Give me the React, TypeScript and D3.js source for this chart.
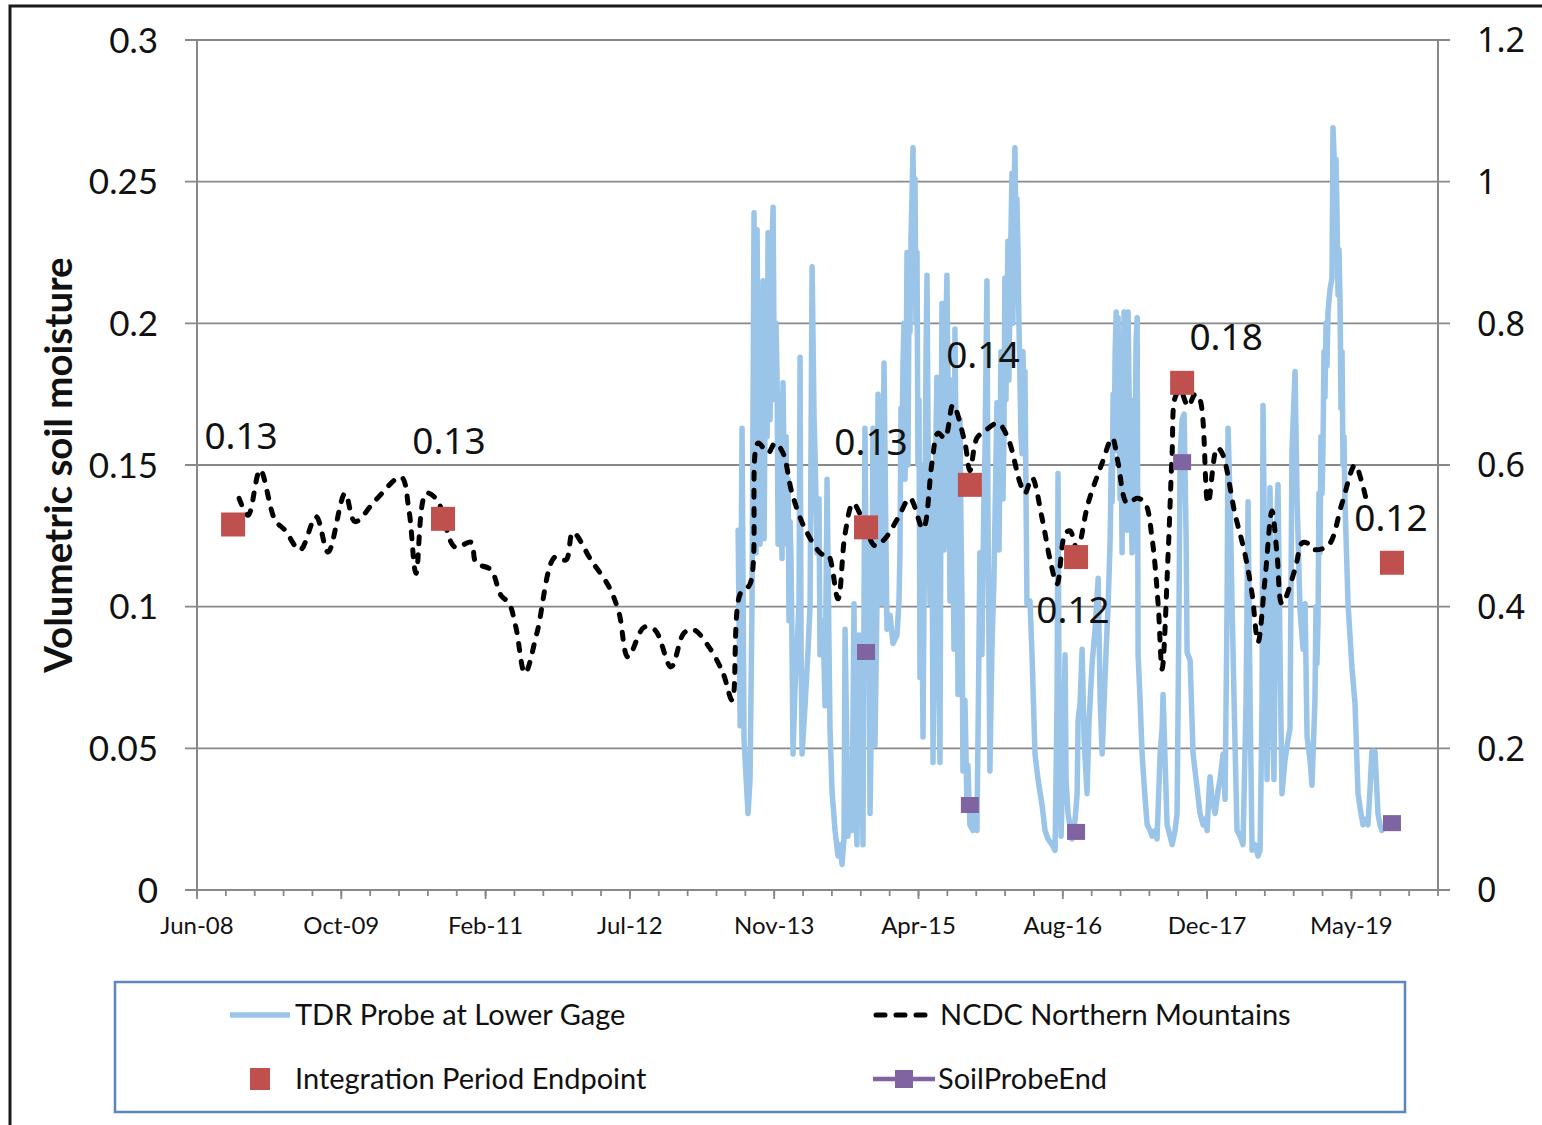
import React from 'react';
import * as d3 from 'd3';

// ---------- axis configuration (data-level) ----------
const axisStart = Date.UTC(2008, 5, 1);
const axisSpanDays = 4300;
const majorStepDays = 500;
const minorStepDays = 100;
const leftTicks = [0, 0.05, 0.1, 0.15, 0.2, 0.25, 0.3];
const rightTicks = [0, 0.2, 0.4, 0.6, 0.8, 1, 1.2];

// ---------- series: TDR Probe at Lower Gage (decimal year, volumetric soil moisture, left axis) ----------
const tdrProbe: [number, number][] = [
  [2013.548, 0.127], [2013.567, 0.058], [2013.585, 0.163], [2013.604, 0.053], [2013.642, 0.027],
  [2013.661, 0.039], [2013.680, 0.102], [2013.699, 0.239], [2013.709, 0.150], [2013.718, 0.119],
  [2013.728, 0.233], [2013.737, 0.180], [2013.747, 0.208], [2013.756, 0.122], [2013.766, 0.190],
  [2013.775, 0.162], [2013.785, 0.215], [2013.794, 0.124], [2013.804, 0.170], [2013.813, 0.208],
  [2013.823, 0.160], [2013.832, 0.232], [2013.842, 0.185], [2013.851, 0.166], [2013.861, 0.220],
  [2013.870, 0.229], [2013.880, 0.241], [2013.889, 0.190], [2013.899, 0.173], [2013.908, 0.200],
  [2013.918, 0.179], [2013.927, 0.122], [2013.937, 0.175], [2013.946, 0.166], [2013.956, 0.130],
  [2013.965, 0.117], [2013.974, 0.179], [2013.984, 0.150], [2013.993, 0.138], [2014.003, 0.160],
  [2014.012, 0.122], [2014.022, 0.145], [2014.031, 0.095], [2014.041, 0.130], [2014.050, 0.117],
  [2014.060, 0.084], [2014.069, 0.048], [2014.088, 0.071], [2014.107, 0.085], [2014.126, 0.102],
  [2014.136, 0.188], [2014.145, 0.088], [2014.155, 0.048], [2014.183, 0.065], [2014.212, 0.085],
  [2014.231, 0.101], [2014.250, 0.220], [2014.269, 0.166], [2014.278, 0.154], [2014.297, 0.119],
  [2014.316, 0.138], [2014.325, 0.083], [2014.354, 0.095], [2014.373, 0.065], [2014.392, 0.145],
  [2014.411, 0.085], [2014.420, 0.057], [2014.439, 0.035], [2014.468, 0.021], [2014.496, 0.012],
  [2014.515, 0.016], [2014.534, 0.009], [2014.553, 0.018], [2014.563, 0.092], [2014.582, 0.046],
  [2014.591, 0.019], [2014.610, 0.032], [2014.629, 0.021], [2014.648, 0.101], [2014.657, 0.046],
  [2014.676, 0.016], [2014.695, 0.090], [2014.705, 0.025], [2014.724, 0.053], [2014.733, 0.016],
  [2014.743, 0.100], [2014.752, 0.163], [2014.762, 0.117], [2014.781, 0.126], [2014.790, 0.090],
  [2014.800, 0.027], [2014.809, 0.050], [2014.819, 0.102], [2014.828, 0.163], [2014.838, 0.117],
  [2014.847, 0.051], [2014.866, 0.102], [2014.876, 0.175], [2014.895, 0.145], [2014.914, 0.101],
  [2014.933, 0.186], [2014.952, 0.120], [2014.961, 0.092], [2014.990, 0.097], [2015.018, 0.087],
  [2015.056, 0.090], [2015.075, 0.102], [2015.084, 0.119], [2015.094, 0.170], [2015.103, 0.155],
  [2015.113, 0.186], [2015.122, 0.200], [2015.132, 0.145], [2015.141, 0.170], [2015.151, 0.225],
  [2015.160, 0.150], [2015.170, 0.208], [2015.179, 0.197], [2015.189, 0.230], [2015.198, 0.244],
  [2015.208, 0.262], [2015.217, 0.230], [2015.227, 0.251], [2015.236, 0.200], [2015.246, 0.225],
  [2015.255, 0.150], [2015.265, 0.173], [2015.274, 0.075], [2015.284, 0.150], [2015.293, 0.102],
  [2015.303, 0.054], [2015.312, 0.100], [2015.322, 0.138], [2015.332, 0.190], [2015.341, 0.217],
  [2015.351, 0.160], [2015.360, 0.138], [2015.369, 0.101], [2015.379, 0.150], [2015.388, 0.138],
  [2015.398, 0.045], [2015.407, 0.090], [2015.416, 0.120], [2015.426, 0.160], [2015.435, 0.181],
  [2015.445, 0.102], [2015.454, 0.070], [2015.464, 0.045], [2015.473, 0.138], [2015.483, 0.207],
  [2015.492, 0.160], [2015.502, 0.120], [2015.511, 0.175], [2015.521, 0.200], [2015.530, 0.217],
  [2015.540, 0.180], [2015.549, 0.155], [2015.559, 0.102], [2015.568, 0.140], [2015.578, 0.180],
  [2015.587, 0.130], [2015.597, 0.085], [2015.606, 0.198], [2015.616, 0.160], [2015.625, 0.138],
  [2015.635, 0.069], [2015.644, 0.120], [2015.654, 0.166], [2015.663, 0.130], [2015.673, 0.102],
  [2015.682, 0.042], [2015.701, 0.067], [2015.720, 0.030], [2015.729, 0.044], [2015.748, 0.023],
  [2015.777, 0.021], [2015.796, 0.027], [2015.815, 0.021], [2015.834, 0.085], [2015.843, 0.119],
  [2015.862, 0.083], [2015.881, 0.138], [2015.891, 0.154], [2015.910, 0.215], [2015.919, 0.138],
  [2015.938, 0.042], [2015.957, 0.085], [2015.976, 0.109], [2016.005, 0.172], [2016.024, 0.120],
  [2016.033, 0.150], [2016.043, 0.190], [2016.052, 0.186], [2016.062, 0.138], [2016.071, 0.160],
  [2016.080, 0.216], [2016.090, 0.173], [2016.099, 0.200], [2016.109, 0.229], [2016.118, 0.180],
  [2016.128, 0.208], [2016.137, 0.230], [2016.147, 0.253], [2016.156, 0.200], [2016.166, 0.244],
  [2016.175, 0.262], [2016.185, 0.230], [2016.194, 0.244], [2016.204, 0.225], [2016.213, 0.200],
  [2016.223, 0.180], [2016.232, 0.160], [2016.242, 0.154], [2016.251, 0.190], [2016.261, 0.173],
  [2016.270, 0.183], [2016.289, 0.101], [2016.318, 0.102], [2016.337, 0.083], [2016.365, 0.048],
  [2016.394, 0.039], [2016.432, 0.030], [2016.460, 0.021], [2016.488, 0.018], [2016.526, 0.016],
  [2016.555, 0.014], [2016.574, 0.067], [2016.583, 0.147], [2016.593, 0.067], [2016.612, 0.019],
  [2016.631, 0.046], [2016.650, 0.083], [2016.659, 0.039], [2016.678, 0.027], [2016.716, 0.018],
  [2016.745, 0.025], [2016.764, 0.034], [2016.773, 0.060], [2016.792, 0.066], [2016.811, 0.085],
  [2016.830, 0.053], [2016.858, 0.034], [2016.877, 0.060], [2016.906, 0.080], [2016.934, 0.092],
  [2016.963, 0.110], [2016.982, 0.067], [2017.001, 0.048], [2017.020, 0.067], [2017.039, 0.085],
  [2017.058, 0.101], [2017.077, 0.124], [2017.087, 0.150], [2017.096, 0.137], [2017.105, 0.175],
  [2017.115, 0.155], [2017.124, 0.190], [2017.134, 0.204], [2017.143, 0.155], [2017.152, 0.202],
  [2017.162, 0.170], [2017.171, 0.138], [2017.181, 0.160], [2017.190, 0.119], [2017.200, 0.173],
  [2017.209, 0.204], [2017.219, 0.180], [2017.228, 0.145], [2017.238, 0.127], [2017.247, 0.204],
  [2017.257, 0.175], [2017.266, 0.155], [2017.276, 0.135], [2017.285, 0.119], [2017.295, 0.150],
  [2017.304, 0.173], [2017.314, 0.160], [2017.323, 0.194], [2017.333, 0.202], [2017.342, 0.083],
  [2017.361, 0.067], [2017.380, 0.048], [2017.409, 0.032], [2017.428, 0.023], [2017.456, 0.021],
  [2017.475, 0.019], [2017.503, 0.021], [2017.522, 0.018], [2017.551, 0.048], [2017.570, 0.057],
  [2017.579, 0.069], [2017.598, 0.046], [2017.617, 0.023], [2017.646, 0.019], [2017.665, 0.016],
  [2017.693, 0.021], [2017.712, 0.027], [2017.731, 0.102], [2017.741, 0.153], [2017.760, 0.166],
  [2017.779, 0.168], [2017.798, 0.124], [2017.807, 0.084], [2017.836, 0.081], [2017.864, 0.048],
  [2017.902, 0.036], [2017.930, 0.027], [2017.959, 0.023], [2017.978, 0.025], [2017.997, 0.021],
  [2018.016, 0.035], [2018.025, 0.040], [2018.044, 0.032], [2018.073, 0.027], [2018.101, 0.035],
  [2018.120, 0.039], [2018.149, 0.048], [2018.168, 0.032], [2018.187, 0.102], [2018.196, 0.163],
  [2018.215, 0.138], [2018.234, 0.101], [2018.253, 0.067], [2018.281, 0.021], [2018.310, 0.019],
  [2018.338, 0.016], [2018.367, 0.067], [2018.386, 0.137], [2018.405, 0.067], [2018.424, 0.014],
  [2018.452, 0.016], [2018.481, 0.012], [2018.500, 0.014], [2018.519, 0.067], [2018.528, 0.171],
  [2018.547, 0.102], [2018.566, 0.039], [2018.585, 0.102], [2018.594, 0.142], [2018.613, 0.067],
  [2018.632, 0.039], [2018.651, 0.120], [2018.670, 0.143], [2018.689, 0.085], [2018.708, 0.034],
  [2018.737, 0.046], [2018.765, 0.053], [2018.784, 0.057], [2018.803, 0.155], [2018.832, 0.183],
  [2018.851, 0.138], [2018.879, 0.099], [2018.908, 0.085], [2018.927, 0.101], [2018.946, 0.054],
  [2018.974, 0.046], [2018.993, 0.037], [2019.021, 0.067], [2019.031, 0.100], [2019.040, 0.080],
  [2019.050, 0.095], [2019.059, 0.140], [2019.069, 0.119], [2019.078, 0.160], [2019.088, 0.140],
  [2019.097, 0.155], [2019.107, 0.190], [2019.116, 0.174], [2019.126, 0.200], [2019.135, 0.185],
  [2019.145, 0.204], [2019.164, 0.212], [2019.183, 0.216], [2019.192, 0.269], [2019.211, 0.251],
  [2019.221, 0.258], [2019.230, 0.239], [2019.240, 0.210], [2019.249, 0.226], [2019.259, 0.208],
  [2019.268, 0.170], [2019.278, 0.190], [2019.287, 0.150], [2019.297, 0.160], [2019.306, 0.137],
  [2019.335, 0.101], [2019.373, 0.078], [2019.401, 0.066], [2019.430, 0.034], [2019.458, 0.027],
  [2019.477, 0.023], [2019.505, 0.025], [2019.524, 0.023], [2019.543, 0.035], [2019.562, 0.049],
  [2019.590, 0.049], [2019.609, 0.035], [2019.619, 0.027], [2019.638, 0.023], [2019.657, 0.021],
];

// ---------- series: NCDC Northern Mountains (decimal year, right axis) ----------
const ncdcNorthernMountains: [number, number][] = [
  [2008.814, 0.553], [2008.899, 0.529], [2009.013, 0.593], [2009.155, 0.522], [2009.250, 0.508],
  [2009.392, 0.480], [2009.544, 0.527], [2009.658, 0.477], [2009.819, 0.560], [2009.914, 0.520],
  [2010.113, 0.551], [2010.351, 0.583], [2010.426, 0.536], [2010.493, 0.447], [2010.588, 0.560],
  [2010.692, 0.551], [2010.863, 0.484], [2011.015, 0.491], [2011.062, 0.462], [2011.204, 0.452],
  [2011.299, 0.416], [2011.375, 0.405], [2011.441, 0.371], [2011.527, 0.306], [2011.641, 0.363],
  [2011.811, 0.470], [2011.916, 0.466], [2011.982, 0.505], [2012.153, 0.466], [2012.324, 0.428],
  [2012.419, 0.391], [2012.504, 0.329], [2012.656, 0.371], [2012.760, 0.367], [2012.912, 0.315],
  [2013.035, 0.363], [2013.130, 0.367], [2013.272, 0.343], [2013.405, 0.306], [2013.491, 0.268],
  [2013.567, 0.418], [2013.661, 0.432], [2013.737, 0.631], [2013.832, 0.617], [2013.899, 0.631],
  [2013.974, 0.617], [2014.060, 0.560], [2014.183, 0.510], [2014.344, 0.474], [2014.401, 0.474],
  [2014.496, 0.411], [2014.563, 0.503], [2014.639, 0.546], [2014.724, 0.525], [2014.847, 0.486],
  [2014.942, 0.496], [2015.065, 0.525], [2015.179, 0.553], [2015.303, 0.510], [2015.388, 0.603],
  [2015.445, 0.645], [2015.511, 0.638], [2015.587, 0.685], [2015.701, 0.631], [2015.748, 0.592],
  [2015.815, 0.638], [2015.891, 0.648], [2016.014, 0.659], [2016.109, 0.638], [2016.223, 0.575],
  [2016.270, 0.560], [2016.337, 0.582], [2016.432, 0.525], [2016.507, 0.467], [2016.574, 0.432],
  [2016.650, 0.503], [2016.697, 0.507], [2016.764, 0.481], [2016.868, 0.546], [2017.001, 0.603],
  [2017.096, 0.638], [2017.152, 0.603], [2017.238, 0.546], [2017.333, 0.553], [2017.409, 0.546],
  [2017.475, 0.496], [2017.532, 0.404], [2017.570, 0.312], [2017.627, 0.474], [2017.665, 0.617],
  [2017.693, 0.695], [2017.741, 0.706], [2017.817, 0.683], [2017.883, 0.700], [2017.930, 0.692],
  [2018.006, 0.546], [2018.092, 0.624], [2018.139, 0.617], [2018.262, 0.531], [2018.357, 0.474],
  [2018.424, 0.418], [2018.481, 0.350], [2018.547, 0.439], [2018.613, 0.535], [2018.661, 0.474],
  [2018.708, 0.404], [2018.832, 0.453], [2018.898, 0.490], [2018.946, 0.490], [2018.993, 0.481],
  [2019.145, 0.486], [2019.278, 0.546], [2019.401, 0.600], [2019.467, 0.575], [2019.515, 0.546],
];

// ---------- Integration Period Endpoint (left axis) ----------
const endpointYears = [2008.757, 2010.749, 2014.762, 2015.748, 2016.754, 2017.760, 2019.752];
const endpointValues = [0.129, 0.131, 0.128, 0.143, 0.1175, 0.179, 0.1155];
// label placement offsets (px) relative to each endpoint marker
const endpointLabelOffsets: [number, number][] = [[8, -89], [6, -78], [5, -86], [13, -130], [-3, 53], [44, -46], [-1, -45]];

// ---------- SoilProbeEnd (left axis) ----------
const probeEndYears = [2014.762, 2015.748, 2016.754, 2017.760, 2019.752];
const probeEndValues = [0.084, 0.030, 0.0205, 0.151, 0.0236];

const legendLabels = ['TDR Probe at Lower Gage', 'NCDC Northern Mountains', 'Integration Period Endpoint', 'SoilProbeEnd'];
const yAxisTitle = 'Volumetric soil moisture';

// ---------- styling ----------
const W = 1542;
const H = 1125;
const plot = { left: 197, right: 1438, top: 40, bottom: 890 };
const gridColor = '#888888';
const blueColor = '#9AC4E8';
const redColor = '#C0504D';
const purpleColor = '#8064A2';
const calibriLike = 'Lato, "Liberation Sans", sans-serif';
const gothicLike = '"Noto Sans", "DejaVu Sans", sans-serif';

const DAY = 86400000;
function decimalYearToDate(y: number): Date {
  const Y = Math.floor(y);
  const s = Date.UTC(Y, 0, 1);
  const e = Date.UTC(Y + 1, 0, 1);
  return new Date(s + (y - Y) * (e - s));
}
const fmtTick = (v: number) => String(+v.toFixed(2));

export default function App() {
  const x = d3
    .scaleUtc()
    .domain([new Date(axisStart), new Date(axisStart + axisSpanDays * DAY)])
    .range([plot.left, plot.right]);
  const yL = d3.scaleLinear().domain([0, 0.3]).range([plot.bottom, plot.top]);
  const yR = d3.scaleLinear().domain([0, 1.2]).range([plot.bottom, plot.top]);

  const majorTicks = d3.range(0, axisSpanDays + 1, majorStepDays).map((d) => new Date(axisStart + d * DAY));
  const minorTicks = d3.range(0, axisSpanDays + 1, minorStepDays).map((d) => new Date(axisStart + d * DAY));
  const fmtDate = d3.utcFormat('%b-%y');

  const tdrLine = d3
    .line<[number, number]>()
    .x((d) => x(decimalYearToDate(d[0])))
    .y((d) => yL(d[1]))
    .curve(d3.curveLinear);
  const ncdcLine = d3
    .line<[number, number]>()
    .x((d) => x(decimalYearToDate(d[0])))
    .y((d) => yR(d[1]))
    .curve(d3.curveCatmullRom.alpha(0.5));

  const fmtLabel = d3.format('.2f');
  const legendFont = 29;

  return (
    <svg
      width={W}
      height={H}
      viewBox={`0 0 ${W} ${H}`}
      style={{ position: 'absolute', left: 0, top: 0, background: '#fff' }}
    >
      <rect x={0} y={0} width={W} height={H} fill="#fff" />
      {/* outer frame */}
      <rect x={10} y={6} width={W + 10} height={H + 10} fill="none" stroke="#1a1a1a" strokeWidth={3} />

      {/* horizontal gridlines + axis ticks */}
      {leftTicks.map((t) => (
        <line key={'g' + t} x1={plot.left - 12} x2={plot.right + 12} y1={yL(t)} y2={yL(t)} stroke={gridColor} strokeWidth={1.8} />
      ))}
      {/* vertical axes */}
      <line x1={plot.left} x2={plot.left} y1={plot.top} y2={plot.bottom} stroke={gridColor} strokeWidth={2} />
      <line x1={plot.right} x2={plot.right} y1={plot.top} y2={plot.bottom} stroke={gridColor} strokeWidth={2} />
      {/* x minor ticks */}
      {minorTicks.map((d, i) => (
        <line key={'m' + i} x1={x(d)} x2={x(d)} y1={plot.bottom} y2={plot.bottom + 6} stroke={gridColor} strokeWidth={1.8} />
      ))}
      {majorTicks.map((d, i) => (
        <line key={'M' + i} x1={x(d)} x2={x(d)} y1={plot.bottom} y2={plot.bottom + 9} stroke={gridColor} strokeWidth={1.8} />
      ))}

      {/* left tick labels */}
      {leftTicks.map((t) => (
        <text key={'l' + t} x={158} y={yL(t)} dy="0.36em" textAnchor="end" fontFamily={calibriLike} fontSize={35} fill="#111">
          {fmtTick(t)}
        </text>
      ))}
      {/* right tick labels */}
      {rightTicks.map((t) => (
        <text key={'r' + t} x={1477} y={yR(t)} dy="0.36em" textAnchor="start" fontFamily={gothicLike} fontSize={34} fill="#111">
          {fmtTick(t)}
        </text>
      ))}
      {/* x tick labels */}
      {majorTicks.map((d, i) => (
        <text key={'x' + i} x={x(d)} y={925} dy="0.36em" textAnchor="middle" fontFamily={calibriLike} fontSize={24} fill="#111">
          {fmtDate(d)}
        </text>
      ))}

      {/* y axis title */}
      <text
        transform={`translate(58, 465) rotate(-90)`}
        textAnchor="middle"
        dy="0.36em"
        fontFamily={calibriLike}
        fontWeight="bold"
        fontSize={38.5}
        fill="#111"
      >
        {yAxisTitle}
      </text>

      {/* TDR probe line */}
      <path d={tdrLine(tdrProbe) || ''} fill="none" stroke={blueColor} strokeWidth={5.5} strokeLinejoin="round" strokeLinecap="round" />

      {/* NCDC dashed line */}
      <path
        d={ncdcLine(ncdcNorthernMountains) || ''}
        fill="none"
        stroke="#000"
        strokeWidth={5}
        strokeDasharray="7 11"
        strokeLinecap="round"
      />

      {/* Integration Period Endpoint markers */}
      {endpointYears.map((yr, i) => {
        const cx = x(decimalYearToDate(yr));
        const cy = yL(endpointValues[i]);
        return <rect key={'e' + i} x={cx - 12} y={cy - 12} width={24} height={24} fill={redColor} />;
      })}
      {/* SoilProbeEnd markers */}
      {probeEndYears.map((yr, i) => {
        const cx = x(decimalYearToDate(yr));
        const cy = yL(probeEndValues[i]);
        return <rect key={'p' + i} x={cx - 9} y={cy - 8} width={18} height={16} fill={purpleColor} />;
      })}
      {/* endpoint labels */}
      {endpointYears.map((yr, i) => {
        const cx = x(decimalYearToDate(yr));
        const cy = yL(endpointValues[i]);
        const [dx, dy] = endpointLabelOffsets[i];
        return (
          <text key={'t' + i} x={cx + dx} y={cy + dy} dy="0.36em" textAnchor="middle" fontFamily={gothicLike} fontSize={37} fill="#111">
            {fmtLabel(endpointValues[i])}
          </text>
        );
      })}

      {/* legend */}
      <rect x={115} y={982} width={1290} height={130} fill="#fff" stroke="#5B86C0" strokeWidth={2.5} />
      <line x1={230} x2={290} y1={1015} y2={1015} stroke={blueColor} strokeWidth={5.5} />
      <text x={295} y={1015} dy="0.36em" fontFamily={calibriLike} fontSize={legendFont} fill="#111">{legendLabels[0]}</text>
      <line x1={876} x2={934} y1={1015} y2={1015} stroke="#000" strokeWidth={5} strokeDasharray="9 11" strokeLinecap="round" />
      <text x={940} y={1015} dy="0.36em" fontFamily={calibriLike} fontSize={legendFont} fill="#111">{legendLabels[1]}</text>
      <rect x={250} y={1068} width={20} height={22} fill={redColor} />
      <text x={295} y={1079} dy="0.36em" fontFamily={calibriLike} fontSize={legendFont} fill="#111">{legendLabels[2]}</text>
      <line x1={873} x2={935} y1={1079} y2={1079} stroke={purpleColor} strokeWidth={4.5} />
      <rect x={895} y={1070} width={18} height={18} fill={purpleColor} />
      <text x={938} y={1079} dy="0.36em" fontFamily={calibriLike} fontSize={legendFont} fill="#111">{legendLabels[3]}</text>
    </svg>
  );
}
